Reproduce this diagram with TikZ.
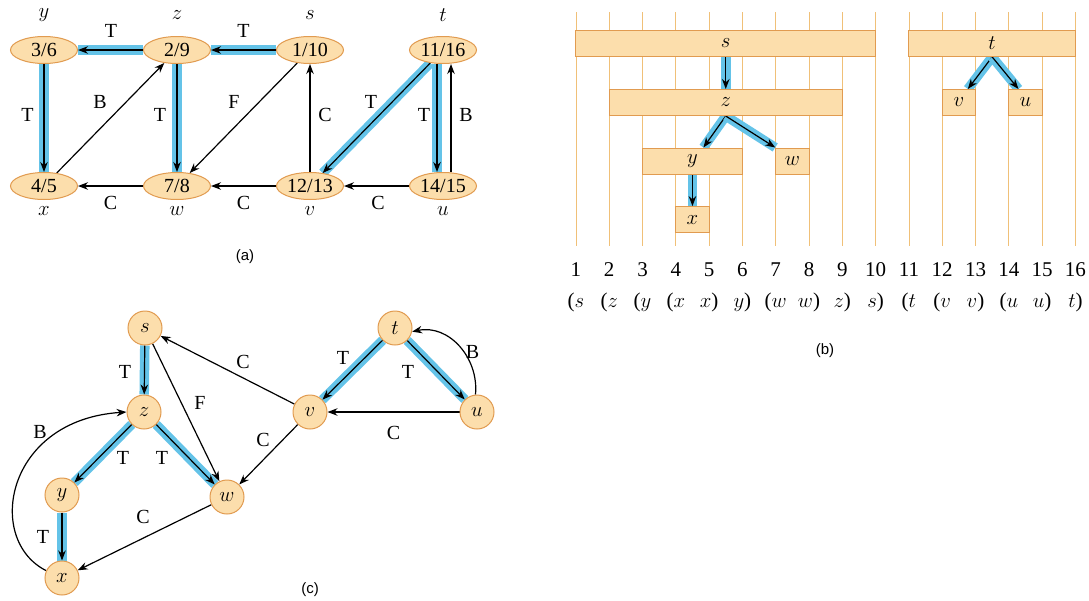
\documentclass[tikz,border=0pt]{standalone}
\usepackage{fontspec}
\setmainfont{Liberation Serif}
\setsansfont{Liberation Sans}
\usetikzlibrary{arrows.meta,shapes.geometric}
\definecolor{hl}{RGB}{100,195,232}
\definecolor{nfill}{RGB}{252,222,172}
\definecolor{ndraw}{RGB}{225,155,80}
\definecolor{gridc}{RGB}{240,192,120}
\pgfdeclarelayer{bg}
\pgfsetlayers{bg,main}
\newcommand{\iv}[1]{$#1$}
\begin{document}
\begin{tikzpicture}[x=1pt,y=-1pt,
 every node/.style={font=\fontsize{20}{22}\selectfont},
 ell/.style={ellipse, draw=ndraw, fill=nfill, line width=1pt, minimum width=67pt, minimum height=27pt, inner sep=0pt},
 vtx/.style={circle, draw=ndraw, fill=nfill, line width=1pt, minimum size=34pt, inner sep=0pt},
 bar/.style={rectangle, draw=ndraw, fill=nfill, line width=1pt, minimum height=26pt, inner sep=0pt},
 arr/.style={draw=black, line width=1.2pt, -{Stealth[length=10pt,width=7.5pt]}},
 tarr/.style={arr, preaction={draw=hl, line width=9.5pt, arrows=-}},
 lbl/.style={inner sep=0pt, font=\fontsize{20}{20}\selectfont},
 big/.style={font=\fontsize{21}{23}\selectfont},
 tag/.style={font=\sffamily\fontsize{15}{17}\selectfont},
]
\useasboundingbox (0,0) rectangle (1089,600);

% ---------------- (a) ----------------
\node[ell] (ay) at (44,50) {3/6};
\node[ell] (az) at (177,50) {2/9};
\node[ell] (as) at (310,50) {1/10};
\node[ell] (at) at (443,50) {11/16};
\node[ell] (ax) at (44,186) {4/5};
\node[ell] (aw) at (177,186) {7/8};
\node[ell] (av) at (310,186) {12/13};
\node[ell] (au) at (443,186) {14/15};
\node (ly) at (44,15) {\iv{y}};
\node (lz) at (177,15) {\iv{z}};
\node (ls) at (310,15) {\iv{s}};
\node (lt) at (443,15) {\iv{t}};
\node (lx) at (44,211) {\iv{x}};
\node (lw) at (177,211) {\iv{w}};
\node (lv) at (310,211) {\iv{v}};
\node (lu) at (443,211) {\iv{u}};
\node[tag] (tagA) at (245,257) {(a)};

\begin{pgfonlayer}{bg}
\draw[tarr] (az) -- node[lbl, xshift=0.5pt, yshift=19pt] (la1) {T} (ay);
\draw[tarr] (as) -- node[lbl, yshift=19pt] (la2) {T} (az);
\draw[tarr] (ay) -- node[lbl, xshift=-16.5pt, yshift=3pt] (la3) {T} (ax);
\draw[tarr] (az) -- node[lbl, xshift=-17pt, yshift=3pt] (la4) {T} (aw);
\draw[arr] (ax) -- node[lbl, xshift=-10.5pt, yshift=16pt] (la5) {B} (az);
\draw[arr] (as) -- node[lbl, xshift=-9.5pt, yshift=16pt] (la6) {F} (aw);
\draw[arr] (av) -- node[lbl, xshift=15pt, yshift=3pt] (la7) {C} (as);
\draw[tarr] (at) -- node[lbl, xshift=-5.5pt, yshift=16pt] (la8) {T} (av);
\draw[tarr] ([xshift=-6pt]at.south) -- node[lbl, xshift=-13pt, yshift=3pt] (la9) {T} ([xshift=-6pt]au.north);
\draw[arr] ([xshift=8pt]au.north) -- node[lbl, xshift=15pt, yshift=3pt] (la10) {B} ([xshift=8pt]at.south);
\draw[arr] (aw) -- node[lbl, yshift=-17pt] (la11) {C} (ax);
\draw[arr] (av) -- node[lbl, yshift=-17pt] (la12) {C} (aw);
\draw[arr] (au) -- node[lbl, xshift=1.5pt, yshift=-17pt] (la13) {C} (av);
\end{pgfonlayer}

% ---------------- (b) ----------------
\begin{pgfonlayer}{bg}
\foreach \i in {1,...,16}
  \draw[gridc, line width=0.8pt] ({575.9+(\i-1)*33.3},12) -- ({575.9+(\i-1)*33.3},246);
\end{pgfonlayer}
\foreach \i in {1,...,16}
  \node[big] (n\i) at ({575.9+(\i-1)*33.3},270) {\i};
\node[big] (p1) at (575.9,302) {(\iv{s}};
\node[big] (p2) at (609.2,302) {(\iv{z}};
\node[big] (p3) at (642.5,302) {(\iv{y}};
\node[big] (p4) at (675.8,302) {(\iv{x}};
\node[big] (p5) at (709.1,302) {\iv{x})};
\node[big] (p6) at (742.4,302) {\iv{y})};
\node[big] (p7) at (775.7,302) {(\iv{w}};
\node[big] (p8) at (809.0,302) {\iv{w})};
\node[big] (p9) at (842.3,302) {\iv{z})};
\node[big] (p10) at (875.6,302) {\iv{s})};
\node[big] (p11) at (908.9,302) {(\iv{t}};
\node[big] (p12) at (942.2,302) {(\iv{v}};
\node[big] (p13) at (975.5,302) {\iv{v})};
\node[big] (p14) at (1008.8,302) {(\iv{u}};
\node[big] (p15) at (1042.1,302) {\iv{u})};
\node[big] (p16) at (1075.4,302) {\iv{t})};

\node[bar, big, minimum width=299.7pt] (bs) at (725.75,43.4) {\iv{s}};
\node[bar, big, minimum width=166.5pt] (bt) at (992.15,43.4) {\iv{t}};
\node[bar, big, minimum width=233.1pt] (bz) at (725.75,102.5) {\iv{z}};
\node[bar, big, minimum width=33.3pt] (bv) at (958.85,102.5) {\iv{v}};
\node[bar, big, minimum width=33.3pt] (bu) at (1025.45,102.5) {\iv{u}};
\node[bar, big, minimum width=99.9pt] (by) at (692.45,161) {\iv{y}};
\node[bar, big, minimum width=33.3pt] (bw) at (792.35,161) {\iv{w}};
\node[bar, big, minimum width=33.3pt] (bx) at (692.45,219.6) {\iv{x}};
\node[tag] (tagB) at (825,351) {(b)};

\begin{pgfonlayer}{bg}
\draw[tarr] (bs) -- (bz);
\draw[tarr] (bz.south) -- ([xshift=11pt]by.north);
\draw[tarr] (bz.south) -- (bw.north west);
\draw[tarr] (by.south) -- (bx.north);
\draw[tarr] (bt.south) -- ([xshift=9pt]bv.north);
\draw[tarr] (bt.south) -- ([xshift=-7pt]bu.north);
\end{pgfonlayer}

% ---------------- (c) ----------------
\node[vtx] (cs) at (145,328) {\iv{s}};
\node[vtx] (cz) at (144,412) {\iv{z}};
\node[vtx] (cy) at (62,495) {\iv{y}};
\node[vtx] (cx) at (62,578) {\iv{x}};
\node[vtx] (cw) at (227,497) {\iv{w}};
\node[vtx] (cv) at (310,412) {\iv{v}};
\node[vtx] (ct) at (395,328) {\iv{t}};
\node[vtx] (cu) at (477,412) {\iv{u}};
\node[tag] (tagC) at (310,590) {(c)};

\begin{pgfonlayer}{bg}
\draw[tarr] (cs) -- node[lbl, xshift=-19.5pt, yshift=-2pt] (lc1) {T} (cz);
\draw[tarr] (cz) -- node[lbl, xshift=20pt, yshift=-4.5pt] (lc2) {T} (cy);
\draw[tarr] (cz) -- node[lbl, xshift=-23.5pt, yshift=-3.5pt] (lc3) {T} (cw);
\draw[arr] (cs) -- node[lbl, xshift=14pt, yshift=10pt] (lc4) {F} (cw);
\draw[arr] (cv) -- node[lbl, xshift=15.5pt, yshift=8pt] (lc5) {C} (cs);
\draw[arr] (cv) -- node[lbl, xshift=-5.5pt, yshift=14.5pt] (lc6) {C} (cw);
\draw[arr] (cu) -- node[lbl, yshift=-21pt] (lc7) {C} (cv);
\draw[tarr] (ct) -- node[lbl, xshift=-9.5pt, yshift=12pt] (lc8) {T} (cv);
\draw[tarr] (ct) -- node[lbl, xshift=-28pt, yshift=-2pt] (lc9) {T} (cu);
\draw[arr] (cu.95) .. controls (479,358) and (449,324) .. (ct.-12)
   node[lbl, pos=0.5, xshift=13.6pt, yshift=-5.4pt] (lc10) {B};
\draw[arr] (cx.155) .. controls (-15,540) and (5,420) .. (cz.west)
   node[lbl, pos=0.75, xshift=-14pt, yshift=4pt] (lc11) {B};
\draw[tarr] (cy) -- node[lbl, xshift=-19pt] (lc12) {T} (cx);
\draw[arr] (cw) -- node[lbl, xshift=-1.5pt, yshift=20.5pt] (lc13) {C} (cx);
\end{pgfonlayer}
\end{tikzpicture}
\end{document}
